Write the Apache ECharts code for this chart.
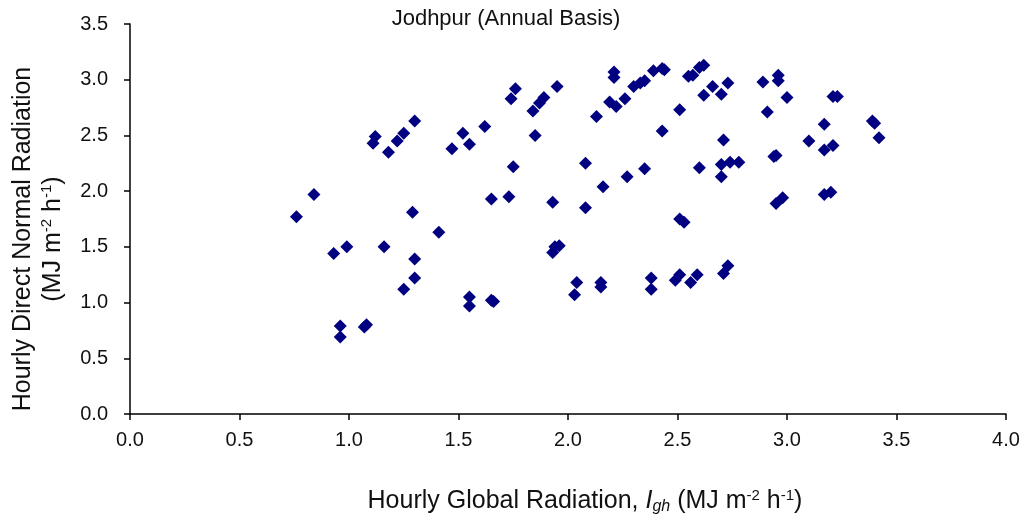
<!DOCTYPE html>
<html>
<head>
<meta charset="utf-8">
<script src="https://cdn.jsdelivr.net/npm/echarts@6/dist/echarts.min.js"></script>
<style>html,body{margin:0;padding:0;background:#fff;}#c{width:1026px;height:523px;}</style>
</head>
<body>
<div id="c"></div>
<script>
const globalRad = [
  0.76, 0.84, 0.93, 0.99, 0.96, 0.96, 1.08, 1.07, 1.12, 1.11, 1.18, 1.22, 1.25, 1.30,
  1.16, 1.29, 1.30, 1.30, 1.25, 1.41, 1.47, 1.52, 1.55, 1.55, 1.55, 1.62, 1.65, 1.66,
  1.65, 1.73, 1.75, 1.74, 1.76, 1.84, 1.85, 1.87, 1.89, 1.93, 1.95, 1.94, 1.96, 1.93,
  2.08, 2.08, 2.04, 2.03, 2.15, 2.15, 2.38, 2.38, 2.49, 2.51, 2.56, 2.59, 2.71, 2.73,
  2.51, 2.53, 2.16, 2.27, 2.35, 2.60, 2.70, 2.74, 2.78, 2.70, 2.71, 2.43, 2.51, 2.13,
  2.19, 2.22, 2.26, 2.21, 2.21, 2.30, 2.33, 2.35, 2.39, 2.43, 2.44, 2.55, 2.57, 2.60,
  2.62, 2.62, 2.66, 2.70, 2.73, 2.89, 2.91, 2.96, 2.96, 3.00, 3.17, 3.10, 3.17, 3.21,
  3.21, 3.23, 3.40, 3.39, 3.42, 2.94, 2.95, 2.95, 2.98, 3.17, 3.20
];
const directNormal = [
  1.77, 1.97, 1.44, 1.50, 0.79, 0.69, 0.80, 0.78, 2.49, 2.43, 2.35, 2.45, 2.52, 2.63,
  1.50, 1.81, 1.39, 1.22, 1.12, 1.63, 2.38, 2.52, 2.42, 1.05, 0.97, 2.58, 1.93, 1.01,
  1.02, 1.95, 2.22, 2.83, 2.92, 2.72, 2.50, 2.79, 2.84, 1.90, 2.94, 1.50, 1.51, 1.45,
  2.25, 1.85, 1.18, 1.07, 1.18, 1.14, 1.22, 1.12, 1.20, 1.25, 1.18, 1.25, 1.26, 1.33,
  1.75, 1.72, 2.04, 2.13, 2.20, 2.21, 2.24, 2.26, 2.26, 2.13, 2.46, 2.54, 2.73, 2.67,
  2.80, 2.76, 2.83, 3.07, 3.02, 2.94, 2.97, 2.99, 3.08, 3.10, 3.09, 3.03, 3.04, 3.11,
  3.13, 2.86, 2.94, 2.87, 2.97, 2.98, 2.71, 2.99, 3.04, 2.84, 2.60, 2.45, 2.37, 2.41,
  2.85, 2.85, 2.61, 2.63, 2.48, 2.31, 2.32, 1.89, 1.94, 1.97, 1.99
];
const xTicks = [0, 0.5, 1.0, 1.5, 2.0, 2.5, 3.0, 3.5, 4.0];
const yTicks = [0, 0.5, 1.0, 1.5, 2.0, 2.5, 3.0, 3.5];

const points = globalRad.map((x, i) => [x, directNormal[i]]);
const FONT = 'Liberation Sans, Arial, sans-serif';
const chart = echarts.init(document.getElementById('c'));
chart.setOption({
  backgroundColor: '#fff',
  animation: false,
  title: {
    text: 'Jodhpur (Annual Basis)',
    left: 501, top: 3, textAlign: 'center',
    textStyle: { fontFamily: FONT, fontSize: 22, fontWeight: 'normal', color: '#111' }
  },
  grid: { left: 126, right: 20, top: 24, bottom: 109, containLabel: false },
  xAxis: {
    type: 'value', min: xTicks[0], max: xTicks[xTicks.length - 1], interval: 0.5,
    axisLine: { show: true, onZero: false, lineStyle: { color: '#000', width: 1.5 } },
    axisTick: { show: true, inside: false, length: 6, lineStyle: { color: '#000', width: 1.5 } },
    splitLine: { show: false },
    axisLabel: { margin: 16, fontFamily: FONT, fontSize: 20, color: '#111',
      formatter: v => v.toFixed(1) },
    name: 'Hourly Global Radiation, {it|I}{sub|gh} (MJ m{sup|-2} h{sup|-1})',
    nameLocation: 'middle', nameGap: 74,
    nameTextStyle: {
      fontFamily: FONT, fontSize: 25, color: '#111', padding: [0, 0, 0, 34],
      rich: {
        it: { fontFamily: FONT, fontSize: 25, fontStyle: 'italic', color: '#111' },
        sub: { fontFamily: FONT, fontSize: 16, fontStyle: 'italic', color: '#111', padding: [10, 0, 0, 0] },
        sup: { fontFamily: FONT, fontSize: 15, color: '#111', padding: [0, 0, 12, 0] }
      }
    }
  },
  yAxis: {
    type: 'value', min: yTicks[0], max: yTicks[yTicks.length - 1], interval: 0.5,
    axisLine: { show: true, onZero: false, lineStyle: { color: '#000', width: 1.5 } },
    axisTick: { show: true, inside: false, length: 6, lineStyle: { color: '#000', width: 1.5 } },
    splitLine: { show: false },
    axisLabel: { margin: 22, fontFamily: FONT, fontSize: 20, color: '#111',
      formatter: v => v.toFixed(1) },
    name: 'Hourly Direct Normal Radiation\n(MJ m{sup|-2} h{sup|-1})',
    nameLocation: 'middle', nameRotate: 90, nameGap: 62,
    nameTextStyle: {
      fontFamily: FONT, fontSize: 25, color: '#111', lineHeight: 30, padding: [0, 40, 0, 0],
      rich: {
        sup: { fontFamily: FONT, fontSize: 15, color: '#111', lineHeight: 30, padding: [0, 0, 12, 0] }
      }
    }
  },
  series: [{
    type: 'scatter',
    data: points,
    symbol: 'diamond',
    symbolSize: 13,
    itemStyle: { color: '#000080', opacity: 1 }
  }]
});
</script>
</body>
</html>
